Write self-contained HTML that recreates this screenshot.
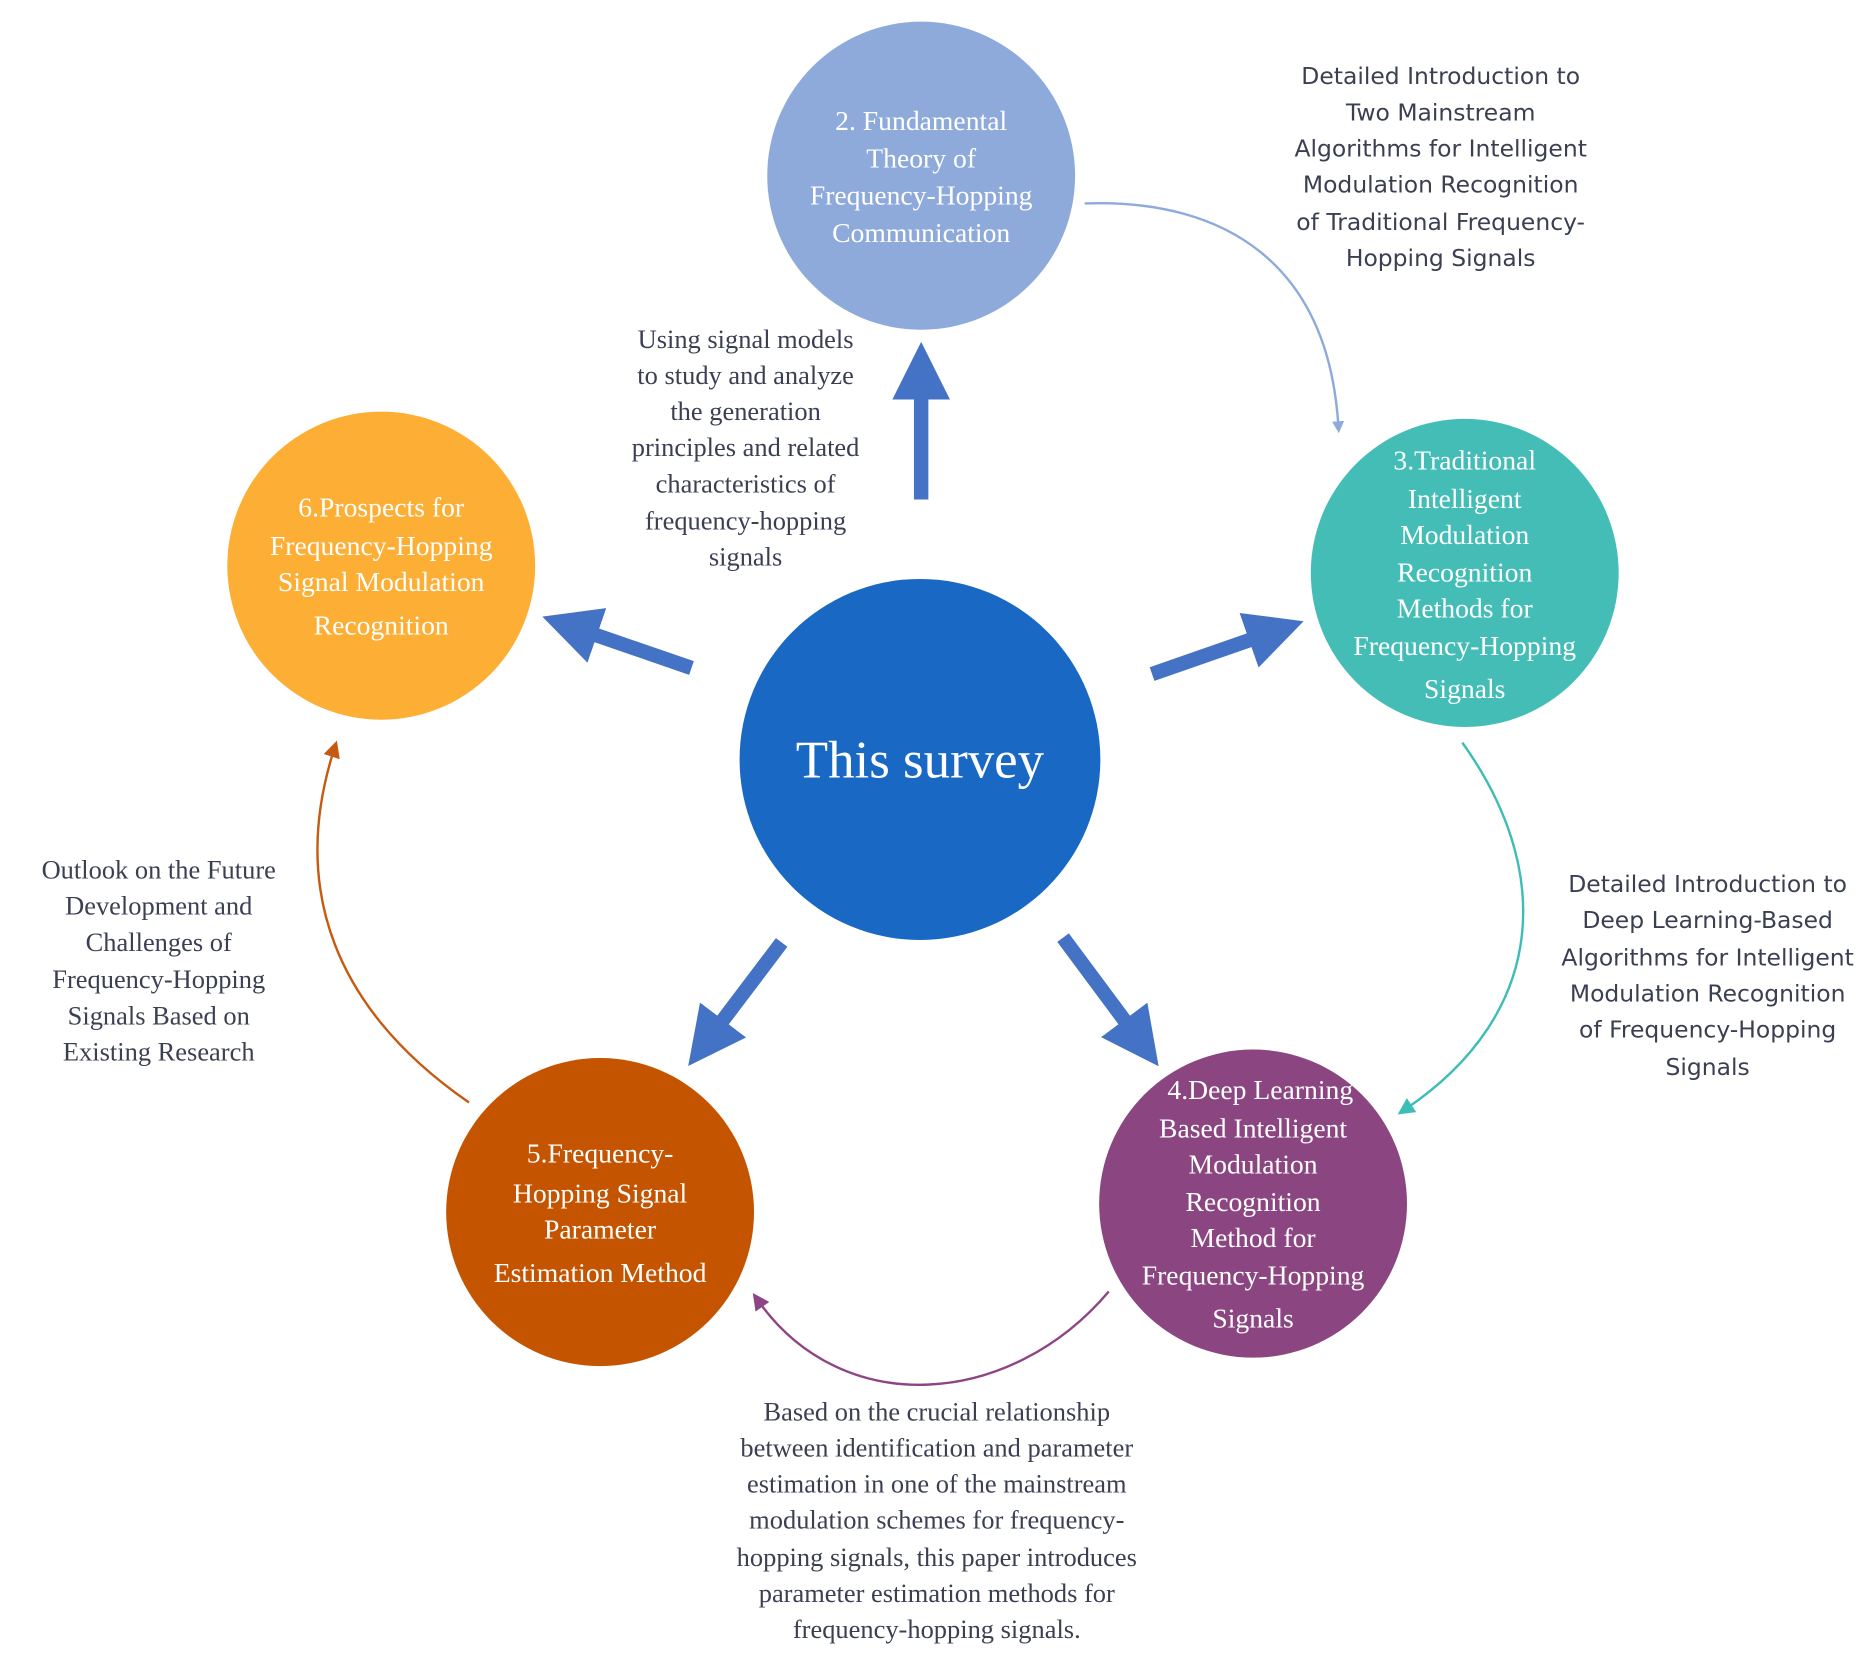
<!DOCTYPE html>
<html><head><meta charset="utf-8"><style>
html,body{margin:0;padding:0;background:#fff;}
svg{display:block;}
.ct{font-family:"Liberation Serif",serif;fill:#fff;font-size:23px;text-anchor:middle;}
.lb{font-family:"Liberation Serif",serif;fill:#3b3f52;font-size:22px;text-anchor:middle;}
.sb{font-family:"DejaVu Sans","Liberation Sans",sans-serif;fill:#3b3f52;font-size:19.5px;text-anchor:middle;}
</style></head><body>
<svg width="1876" height="1661" viewBox="0 0 1560 1380" preserveAspectRatio="none">
<defs>
<marker id="m1" markerWidth="10" markerHeight="10" refX="5" refY="5" orient="auto" markerUnits="userSpaceOnUse" viewBox="0 0 10 10"><path d="M0,0 L10,5 L0,10 z" fill="#8eaadb"/></marker>
<marker id="m2" markerWidth="14" markerHeight="14" refX="7" refY="7" orient="auto" markerUnits="userSpaceOnUse" viewBox="0 0 14 14"><path d="M0,0 L14,7 L0,14 z" fill="#3dbdb5"/></marker>
<marker id="m3" markerWidth="14" markerHeight="14" refX="7" refY="7" orient="auto" markerUnits="userSpaceOnUse" viewBox="0 0 14 14"><path d="M0,0 L14,7 L0,14 z" fill="#8e4585"/></marker>
<marker id="m4" markerWidth="14" markerHeight="14" refX="7" refY="7" orient="auto" markerUnits="userSpaceOnUse" viewBox="0 0 14 14"><path d="M0,0 L14,7 L0,14 z" fill="#c55a11"/></marker>
<marker id="mb" markerWidth="4" markerHeight="4" refX="1" refY="2" orient="auto" viewBox="0 0 4 4"><path d="M0,0 L4,2 L0,4 z" fill="#4472c4"/></marker>
</defs>
<circle cx="766" cy="146" r="128" fill="#8eaadb"/>
<circle cx="1218" cy="476" r="128" fill="#45bdb7"/>
<circle cx="317" cy="470" r="128" fill="#fdae35"/>
<circle cx="765" cy="631" r="150" fill="#1868c4"/>
<circle cx="499" cy="1007" r="128" fill="#c55400"/>
<circle cx="1042" cy="1000" r="128" fill="#8b4682"/>
<g stroke="#4472c4" stroke-width="12" fill="none" marker-end="url(#mb)">
<line x1="766" y1="415" x2="766" y2="320"/>
<line x1="575" y1="555" x2="485" y2="524"/>
<line x1="958" y1="560" x2="1050" y2="528"/>
<line x1="650" y1="783" x2="594" y2="857"/>
<line x1="884" y1="779" x2="942" y2="857"/>
</g>
<path d="M902,169 C1020,165 1105,220 1113,355" stroke="#8eaadb" stroke-width="2" fill="none" marker-end="url(#m1)"/>
<path d="M1216,617 C1290,720 1290,840 1168,922" stroke="#3dbdb5" stroke-width="2" fill="none" marker-end="url(#m2)"/>
<path d="M922,1073 C840,1170 700,1180 630,1080" stroke="#8e4585" stroke-width="2" fill="none" marker-end="url(#m3)"/>
<path d="M390,916 C280,840 240,740 278,622" stroke="#c55a11" stroke-width="2" fill="none" marker-end="url(#m4)"/>
<text class="ct" x="766" y="108">2. Fundamental</text>
<text class="ct" x="766" y="139">Theory of</text>
<text class="ct" x="766" y="170">Frequency-Hopping</text>
<text class="ct" x="766" y="201">Communication</text>
<text class="ct" x="1218" y="390">3.Traditional</text>
<text class="ct" x="1218" y="422">Intelligent</text>
<text class="ct" x="1218" y="452">Modulation</text>
<text class="ct" x="1218" y="483">Recognition</text>
<text class="ct" x="1218" y="513">Methods for</text>
<text class="ct" x="1218" y="544">Frequency-Hopping</text>
<text class="ct" x="1218" y="580">Signals</text>
<text class="ct" x="317" y="429">6.Prospects for</text>
<text class="ct" x="317" y="461">Frequency-Hopping</text>
<text class="ct" x="317" y="491">Signal Modulation</text>
<text class="ct" x="317" y="527">Recognition</text>
<text x="765" y="646" style="font-family:'Liberation Serif',serif;fill:#fff;font-size:44px;text-anchor:middle">This survey</text>
<text class="ct" x="499" y="966">5.Frequency-</text>
<text class="ct" x="499" y="999">Hopping Signal</text>
<text class="ct" x="499" y="1029">Parameter</text>
<text class="ct" x="499" y="1065">Estimation Method</text>
<text class="ct" x="1048" y="913">4.Deep Learning</text>
<text class="ct" x="1042" y="945">Based Intelligent</text>
<text class="ct" x="1042" y="975">Modulation</text>
<text class="ct" x="1042" y="1006">Recognition</text>
<text class="ct" x="1042" y="1036">Method for</text>
<text class="ct" x="1042" y="1067">Frequency-Hopping</text>
<text class="ct" x="1042" y="1103">Signals</text>
<g class="lb">
<text x="620" y="289">Using signal models</text>
<text x="620" y="319">to study and analyze</text>
<text x="620" y="349">the generation</text>
<text x="620" y="379">principles and related</text>
<text x="620" y="409">characteristics of</text>
<text x="620" y="440">frequency-hopping</text>
<text x="620" y="470">signals</text>
<text x="132" y="730">Outlook on the Future</text>
<text x="132" y="760">Development and</text>
<text x="132" y="790">Challenges of</text>
<text x="132" y="821">Frequency-Hopping</text>
<text x="132" y="851">Signals Based on</text>
<text x="132" y="881">Existing Research</text>
<text x="779" y="1180">Based on the crucial relationship</text>
<text x="779" y="1210">between identification and parameter</text>
<text x="779" y="1240">estimation in one of the mainstream</text>
<text x="779" y="1270">modulation schemes for frequency-</text>
<text x="779" y="1301">hopping signals, this paper introduces</text>
<text x="779" y="1331">parameter estimation methods for</text>
<text x="779" y="1361">frequency-hopping signals.</text>
</g>
<g class="sb">
<text x="1198" y="70">Detailed Introduction to</text>
<text x="1198" y="100">Two Mainstream</text>
<text x="1198" y="130">Algorithms for Intelligent</text>
<text x="1198" y="160">Modulation Recognition</text>
<text x="1198" y="191">of Traditional Frequency-</text>
<text x="1198" y="221">Hopping Signals</text>
<text x="1420" y="741">Detailed Introduction to</text>
<text x="1420" y="771">Deep Learning-Based</text>
<text x="1420" y="802">Algorithms for Intelligent</text>
<text x="1420" y="832">Modulation Recognition</text>
<text x="1420" y="862">of Frequency-Hopping</text>
<text x="1420" y="893">Signals</text>
</g>
</svg>
</body></html>
